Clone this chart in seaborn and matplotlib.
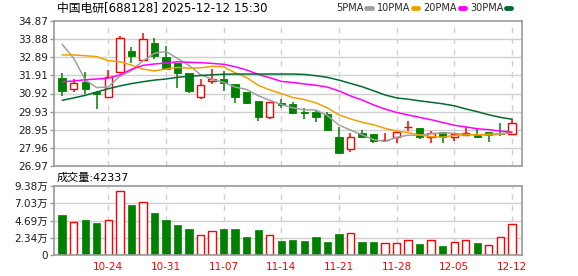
import matplotlib
matplotlib.use("Agg")
import matplotlib.pyplot as plt
from matplotlib.lines import Line2D
import seaborn as sns
import numpy as np

sns.set_style("white")
plt.rcParams['font.family'] = ['DejaVu Sans', 'Noto Sans CJK SC']

# ---------------- data ----------------
dates = ['10-20', '10-21', '10-22', '10-23', '10-24',
         '10-27', '10-28', '10-29', '10-30', '10-31',
         '11-03', '11-04', '11-05', '11-06', '11-07',
         '11-10', '11-11', '11-12', '11-13', '11-14',
         '11-17', '11-18', '11-19', '11-20', '11-21',
         '11-24', '11-25', '11-26', '11-27', '11-28',
         '12-01', '12-02', '12-03', '12-04', '12-05',
         '12-08', '12-09', '12-10', '12-11', '12-12']
tick_labels = ['10-24', '10-31', '11-07', '11-14', '11-21', '11-28', '12-05', '12-12']

opens = [31.78, 31.16, 31.55, 31.02, 30.71, 32.11, 33.24, 32.73, 33.67, 32.91,
         32.58, 32.02, 30.71, 31.58, 31.69, 31.44, 31.00, 30.51, 29.66, 30.40,
         30.37, 29.93, 29.89, 29.82, 28.53, 27.88, 28.75, 28.71, 28.37, 28.53,
         29.09, 29.02, 28.57, 28.82, 28.56, 28.66, 28.64, 28.82, 28.78, 28.69]
highs = [32.05, 31.69, 32.09, 31.05, 32.18, 34.05, 33.45, 34.22, 33.94, 33.51,
         32.60, 32.04, 31.69, 32.24, 32.16, 31.46, 31.02, 30.53, 30.46, 30.62,
         30.44, 30.11, 30.02, 29.93, 29.11, 28.77, 28.93, 28.73, 28.78, 28.89,
         29.40, 29.04, 28.86, 28.84, 28.76, 29.08, 29.02, 28.84, 29.29, 29.51]
lows = [30.80, 30.98, 30.87, 30.09, 30.71, 32.11, 32.56, 32.73, 32.78, 32.18,
        31.24, 30.93, 30.62, 31.44, 31.06, 30.42, 30.33, 29.44, 29.55, 30.13,
        29.82, 29.51, 29.38, 28.88, 27.70, 27.73, 28.51, 28.24, 28.26, 28.24,
        28.89, 28.46, 28.24, 28.24, 28.35, 28.64, 28.48, 28.26, 28.62, 28.69]
closes = [31.06, 31.47, 31.18, 30.91, 31.80, 33.93, 32.98, 33.87, 32.98, 32.27,
          32.05, 31.07, 31.36, 31.69, 31.47, 30.75, 30.42, 29.66, 30.44, 30.31,
          29.87, 29.86, 29.62, 28.93, 27.70, 28.56, 28.55, 28.33, 28.41, 28.82,
          29.12, 28.57, 28.75, 28.57, 28.74, 28.78, 28.57, 28.66, 28.73, 29.29]

ma5 = [33.60, 32.84, 31.66, 31.24, 31.28, 31.86, 32.16, 32.70, 33.11, 33.21,
       32.83, 32.45, 31.95, 31.69, 31.53, 31.27, 31.14, 30.80, 30.55, 30.32,
       30.14, 30.03, 30.02, 29.72, 29.20, 28.93, 28.67, 28.41, 28.31, 28.53,
       28.65, 28.65, 28.73, 28.77, 28.75, 28.68, 28.68, 28.66, 28.70, 28.81]
ma10 = [33.02, 33.02, 32.98, 32.93, 32.71, 32.65, 32.47, 32.25, 32.15, 32.25,
        32.34, 32.30, 32.32, 32.40, 32.37, 32.05, 31.79, 31.37, 31.12, 30.92,
        30.70, 30.59, 30.41, 30.14, 29.76, 29.54, 29.35, 29.22, 29.02, 28.87,
        28.79, 28.66, 28.57, 28.54, 28.64, 28.67, 28.67, 28.70, 28.73, 28.78]
ma20 = [31.56, 31.60, 31.67, 31.71, 31.76, 31.93, 32.24, 32.45, 32.53, 32.58,
        32.65, 32.62, 32.60, 32.56, 32.51, 32.38, 32.20, 31.96, 31.78, 31.58,
        31.52, 31.44, 31.37, 31.27, 31.06, 30.79, 30.57, 30.30, 30.07, 29.89,
        29.75, 29.62, 29.49, 29.34, 29.19, 29.10, 29.00, 28.95, 28.87, 28.82]
ma30 = [30.55, 30.68, 30.82, 31.00, 31.18, 31.33, 31.46, 31.56, 31.65, 31.71,
        31.80, 31.86, 31.90, 31.94, 31.97, 31.98, 31.98, 31.98, 31.98, 31.98,
        31.98, 31.96, 31.89, 31.80, 31.65, 31.47, 31.29, 31.07, 30.84, 30.68,
        30.61, 30.52, 30.44, 30.36, 30.25, 30.08, 29.93, 29.76, 29.62, 29.52]

volume_wan = [5.50, 4.51, 4.82, 4.42, 4.78, 8.70, 6.85, 7.21, 5.77, 4.82,
              4.14, 3.60, 2.79, 3.29, 3.60, 3.60, 2.52, 3.47, 2.75, 1.98,
              2.12, 1.98, 2.48, 1.84, 2.93, 3.06, 1.84, 1.84, 1.66, 1.66,
              2.07, 1.57, 2.07, 1.30, 1.80, 2.07, 1.71, 1.39, 2.48, 4.23]

price_ticks = [26.97, 27.96, 28.95, 29.93, 30.92, 31.91, 32.89, 33.88, 34.87]
vol_ticks = [0, 2.34, 4.69, 7.03, 9.38]
vol_tick_labels = ['0', '2.34万', '4.69万', '7.03万', '9.38万']

ma_names = ['5PMA', '10PMA', '20PMA', '30PMA']
ma_colors = ['#a0a0a0', '#f0a000', '#ff00ff', '#006b30']

title_text = '中国电研[688128] 2025-12-12 15:30'
vol_text = '成交量:42337'

RED = '#ff0000'
GREEN = '#008000'
GRID = '#d0d0d0'
SPINE = '#999999'
TXT = '#1a1a2a'

# ---------------- figure ----------------
W, H = 578, 276
fig = plt.figure(figsize=(W / 100, H / 100), dpi=100)
ax1 = fig.add_axes([54 / W, 1 - 166 / H, 468 / W, 145 / H])
ax2 = fig.add_axes([54 / W, 1 - 255.3 / H, 468 / W, 69.3 / H])

idx = np.arange(len(dates))
xlim = (-0.71, 39.88)
tick_pos = [dates.index(t) for t in tick_labels]
bw = 0.64

for ax in (ax1, ax2):
    ax.set_xlim(*xlim)
    for s in ax.spines.values():
        s.set_color(SPINE)
        s.set_linewidth(1.2)
    for p in tick_pos:
        ax.axvline(p, color=GRID, lw=1, ls=(0, (4, 4)), zorder=0)

# price panel
ax1.set_ylim(price_ticks[0], price_ticks[-1])
ax1.set_yticks(price_ticks)
ax1.set_yticklabels([f'{t:.2f}' for t in price_ticks])
for t in price_ticks[1:-1]:
    ax1.axhline(t, color=GRID, lw=1, zorder=0)
ax1.set_xticks([])

for i in idx:
    o, c, h, l = opens[i], closes[i], highs[i], lows[i]
    top, bot = max(o, c), min(o, c)
    if c > o:
        col = RED
        ax1.bar(i, max(top - bot, 0.015), bottom=bot, width=bw, facecolor='white',
                edgecolor=col, linewidth=1.0, zorder=2)
    else:
        col = GREEN
        ax1.bar(i, max(top - bot, 0.03), bottom=bot, width=bw, facecolor=col,
                edgecolor=col, linewidth=0.6, zorder=2)
    ax1.vlines(i, top, h, color=col, lw=1.1, zorder=2)
    ax1.vlines(i, l, bot, color=col, lw=1.1, zorder=2)

for ma, colr in zip([ma5, ma10, ma20, ma30], ma_colors):
    sns.lineplot(x=idx, y=ma, ax=ax1, color=colr, linewidth=1.1, zorder=3)

# volume panel
ax2.set_ylim(0, vol_ticks[-1])
ax2.set_yticks(vol_ticks)
ax2.set_yticklabels(vol_tick_labels)
for t in vol_ticks[1:-1]:
    ax2.axhline(t, color=GRID, lw=1, zorder=0)
for i in idx:
    prev = closes[i - 1] if i > 0 else opens[i]
    if closes[i] > prev:
        ax2.bar(i, volume_wan[i], width=bw, facecolor='white', edgecolor=RED,
                linewidth=1.0, zorder=2)
    else:
        ax2.bar(i, volume_wan[i], width=bw, facecolor=GREEN, edgecolor=GREEN,
                linewidth=0.5, zorder=2)
ax2.set_xticks(tick_pos)
ax2.set_xticklabels(tick_labels, color=RED, fontsize=7.5)

for ax in (ax1, ax2):
    ax.tick_params(axis='y', length=3, width=1, color=SPINE, labelsize=7.5,
                   labelcolor=TXT, pad=1.5, left=True)
ax2.tick_params(axis='x', length=0, pad=5)

fig.text(57 / W, 1 - 8 / H, title_text, fontsize=8.5, color='#000000',
         ha='left', va='center')
fig.text(57 / W, 1 - 178 / H, vol_text, fontsize=8, color='#000000',
         ha='left', va='center')

handles = [Line2D([], [], color=c, lw=3.5) for c in ma_colors]
fig.legend(handles, ma_names, loc='center', bbox_to_anchor=(424 / W, 1 - 8 / H),
           ncol=4, frameon=False, markerfirst=False, fontsize=7,
           handlelength=0.55, handletextpad=0.25, columnspacing=0.55, borderpad=0,
           borderaxespad=0)

fig.savefig('out.png', dpi=100)
